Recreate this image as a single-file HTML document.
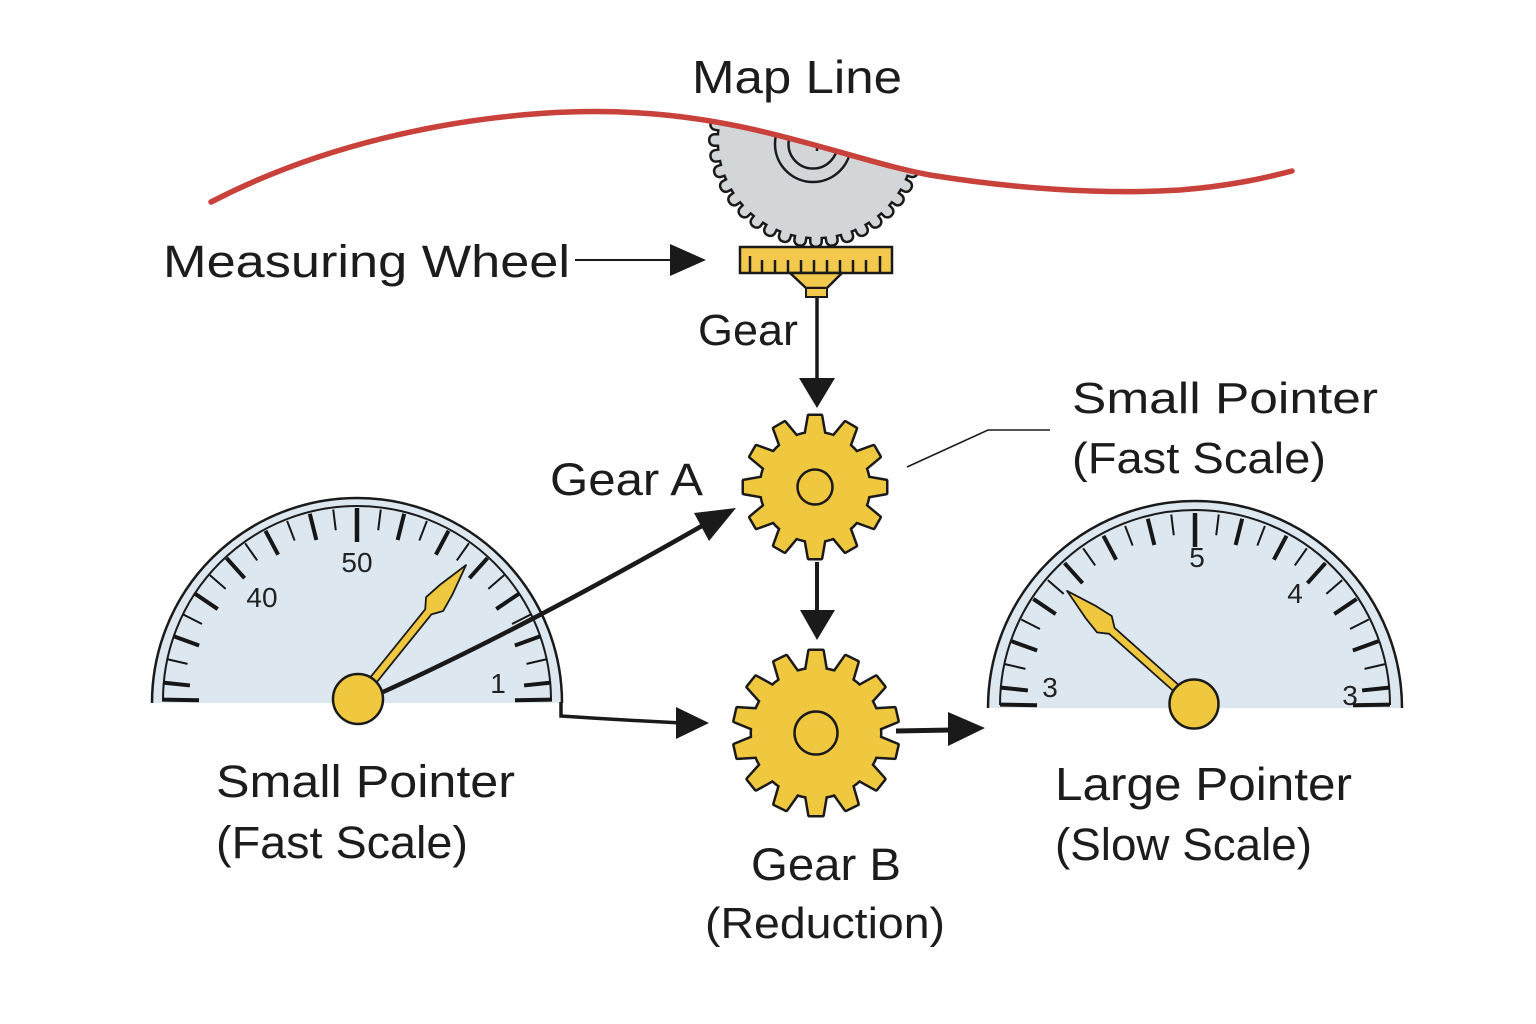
<!DOCTYPE html>
<html>
<head>
<meta charset="utf-8">
<style>
html,body{margin:0;padding:0;background:#fff;}
svg{display:block;}
.lbl{font-family:"Liberation Sans",sans-serif;fill:#1c1c1c;}
.num{font-family:"Liberation Sans",sans-serif;fill:#222;font-size:28px;}
</style>
</head>
<body>
<svg width="1536" height="1024" viewBox="0 0 1536 1024" xmlns="http://www.w3.org/2000/svg" xmlns:xlink="http://www.w3.org/1999/xlink">
<defs>
  <clipPath id="below">
    <path d="M 211 202 C 350 130, 520 105, 640 113 C 760 120, 850 160, 930 175 C 1010 188, 1100 195, 1180 190 C 1230 186, 1265 178, 1292 171 L 1292 1024 L 211 1024 Z"/>
  </clipPath>

  <!-- measuring wheel shape -->
  <g id="wh">
    <circle r="97"/>
    <rect id="wt" x="-4.5" y="-105.5" width="9" height="12" rx="4"/>
    <use href="#wt" transform="rotate(9)"/><use href="#wt" transform="rotate(18)"/><use href="#wt" transform="rotate(27)"/>
    <use href="#wt" transform="rotate(36)"/><use href="#wt" transform="rotate(45)"/><use href="#wt" transform="rotate(54)"/>
    <use href="#wt" transform="rotate(63)"/><use href="#wt" transform="rotate(72)"/><use href="#wt" transform="rotate(81)"/>
    <use href="#wt" transform="rotate(90)"/><use href="#wt" transform="rotate(99)"/><use href="#wt" transform="rotate(108)"/>
    <use href="#wt" transform="rotate(117)"/><use href="#wt" transform="rotate(126)"/><use href="#wt" transform="rotate(135)"/>
    <use href="#wt" transform="rotate(144)"/><use href="#wt" transform="rotate(153)"/><use href="#wt" transform="rotate(162)"/>
    <use href="#wt" transform="rotate(171)"/><use href="#wt" transform="rotate(180)"/><use href="#wt" transform="rotate(189)"/>
    <use href="#wt" transform="rotate(198)"/><use href="#wt" transform="rotate(207)"/><use href="#wt" transform="rotate(216)"/>
    <use href="#wt" transform="rotate(225)"/><use href="#wt" transform="rotate(234)"/><use href="#wt" transform="rotate(243)"/>
    <use href="#wt" transform="rotate(252)"/><use href="#wt" transform="rotate(261)"/><use href="#wt" transform="rotate(270)"/>
    <use href="#wt" transform="rotate(279)"/><use href="#wt" transform="rotate(288)"/><use href="#wt" transform="rotate(297)"/>
    <use href="#wt" transform="rotate(306)"/><use href="#wt" transform="rotate(315)"/><use href="#wt" transform="rotate(324)"/>
    <use href="#wt" transform="rotate(333)"/><use href="#wt" transform="rotate(342)"/><use href="#wt" transform="rotate(351)"/>
  </g>

  <!-- gear A: 12 teeth -->
  <g id="gA">
    <circle r="54"/>
    <path id="tA" d="M -9.5 -51 L -6 -71 L 6 -71 L 9.5 -51 Z"/>
    <use href="#tA" transform="rotate(30)"/><use href="#tA" transform="rotate(60)"/><use href="#tA" transform="rotate(90)"/>
    <use href="#tA" transform="rotate(120)"/><use href="#tA" transform="rotate(150)"/><use href="#tA" transform="rotate(180)"/>
    <use href="#tA" transform="rotate(210)"/><use href="#tA" transform="rotate(240)"/><use href="#tA" transform="rotate(270)"/>
    <use href="#tA" transform="rotate(300)"/><use href="#tA" transform="rotate(330)"/>
  </g>

  <!-- gear B: 14 teeth -->
  <g id="gB">
    <circle r="64"/>
    <path id="tB" d="M -10 -61 L -6.5 -82 L 6.5 -82 L 10 -61 Z"/>
    <use href="#tB" transform="rotate(25.714)"/><use href="#tB" transform="rotate(51.429)"/><use href="#tB" transform="rotate(77.143)"/>
    <use href="#tB" transform="rotate(102.857)"/><use href="#tB" transform="rotate(128.571)"/><use href="#tB" transform="rotate(154.286)"/>
    <use href="#tB" transform="rotate(180)"/><use href="#tB" transform="rotate(205.714)"/><use href="#tB" transform="rotate(231.429)"/>
    <use href="#tB" transform="rotate(257.143)"/><use href="#tB" transform="rotate(282.857)"/><use href="#tB" transform="rotate(308.571)"/>
    <use href="#tB" transform="rotate(334.286)"/>
  </g>

  <!-- dial ticks -->
  <g id="ticks" stroke="#161616" stroke-linecap="butt">
    <line x1="0" y1="-195" x2="0" y2="-161" stroke-width="4.5"/>
    <g stroke-width="4">
      <line x1="0" y1="-195" x2="0" y2="-168" transform="rotate(14)"/>
      <line x1="0" y1="-195" x2="0" y2="-168" transform="rotate(28)"/>
      <line x1="0" y1="-195" x2="0" y2="-168" transform="rotate(42)"/>
      <line x1="0" y1="-195" x2="0" y2="-168" transform="rotate(56)"/>
      <line x1="0" y1="-195" x2="0" y2="-168" transform="rotate(70)"/>
      <line x1="0" y1="-195" x2="0" y2="-168" transform="rotate(84)"/>
      <line x1="0" y1="-195" x2="0" y2="-168" transform="rotate(-14)"/>
      <line x1="0" y1="-195" x2="0" y2="-168" transform="rotate(-28)"/>
      <line x1="0" y1="-195" x2="0" y2="-168" transform="rotate(-42)"/>
      <line x1="0" y1="-195" x2="0" y2="-168" transform="rotate(-56)"/>
      <line x1="0" y1="-195" x2="0" y2="-168" transform="rotate(-70)"/>
      <line x1="0" y1="-195" x2="0" y2="-168" transform="rotate(-84)"/>
      <line x1="0" y1="-195" x2="0" y2="-158" transform="rotate(89)"/>
      <line x1="0" y1="-195" x2="0" y2="-158" transform="rotate(-89)"/>
    </g>
    <g stroke-width="2">
      <line x1="0" y1="-195" x2="0" y2="-174" transform="rotate(7)"/>
      <line x1="0" y1="-195" x2="0" y2="-174" transform="rotate(21)"/>
      <line x1="0" y1="-195" x2="0" y2="-174" transform="rotate(35)"/>
      <line x1="0" y1="-195" x2="0" y2="-174" transform="rotate(49)"/>
      <line x1="0" y1="-195" x2="0" y2="-174" transform="rotate(63)"/>
      <line x1="0" y1="-195" x2="0" y2="-174" transform="rotate(77)"/>
      <line x1="0" y1="-195" x2="0" y2="-174" transform="rotate(-7)"/>
      <line x1="0" y1="-195" x2="0" y2="-174" transform="rotate(-21)"/>
      <line x1="0" y1="-195" x2="0" y2="-174" transform="rotate(-35)"/>
      <line x1="0" y1="-195" x2="0" y2="-174" transform="rotate(-49)"/>
      <line x1="0" y1="-195" x2="0" y2="-174" transform="rotate(-63)"/>
      <line x1="0" y1="-195" x2="0" y2="-174" transform="rotate(-77)"/>
    </g>
  </g>
</defs>

<rect width="1536" height="1024" fill="#fff"/>

<!-- Measuring wheel (clipped below the map line) -->
<g clip-path="url(#below)">
  <g transform="translate(816,140)">
    <use href="#wh" fill="#1a1a1a" stroke="#1a1a1a" stroke-width="5" stroke-linejoin="round"/>
    <use href="#wh" fill="#d3d6d9"/>
  </g>
  <circle cx="813" cy="144" r="38" fill="none" stroke="#1a1a1a" stroke-width="2.5"/>
  <circle cx="813" cy="144" r="24.5" fill="none" stroke="#1a1a1a" stroke-width="2.5"/>
  <line x1="817" y1="143" x2="817" y2="151" stroke="#1a1a1a" stroke-width="2.5"/>
</g>

<!-- Map line -->
<path d="M 211 202 C 350 130, 520 105, 640 113 C 760 120, 850 160, 930 175 C 1010 188, 1100 195, 1180 190 C 1230 186, 1265 178, 1292 171" fill="none" stroke="#c8413a" stroke-width="5.5" stroke-linecap="round"/>

<!-- Ruler / gear rack -->
<rect x="740" y="247" width="152" height="26" fill="#f2c94c" stroke="#1a1a1a" stroke-width="2.5"/>
<g stroke="#1a1a1a" stroke-width="2.5">
  <line x1="750" y1="256" x2="750" y2="273"/>
  <line x1="762" y1="260" x2="762" y2="273"/>
  <line x1="775" y1="260" x2="775" y2="273"/>
  <line x1="788" y1="260" x2="788" y2="273"/>
  <line x1="801" y1="260" x2="801" y2="273"/>
  <line x1="814" y1="260" x2="814" y2="273"/>
  <line x1="827" y1="260" x2="827" y2="273"/>
  <line x1="840" y1="260" x2="840" y2="273"/>
  <line x1="853" y1="260" x2="853" y2="273"/>
  <line x1="866" y1="260" x2="866" y2="273"/>
  <line x1="880" y1="256" x2="880" y2="273"/>
</g>
<polygon points="790,273 842,273 827,288 806,288" fill="#f2c94c" stroke="#1a1a1a" stroke-width="2.5" stroke-linejoin="round"/>
<rect x="806" y="288" width="21" height="9" fill="#f2c94c" stroke="#1a1a1a" stroke-width="2"/>

<!-- Arrow: Measuring wheel label -> ruler -->
<line x1="575" y1="260" x2="674" y2="260" stroke="#1a1a1a" stroke-width="2"/>
<polygon points="670,244 706,260 670,276" fill="#1a1a1a"/>

<!-- Arrow: gear down to Gear A -->
<line x1="817" y1="297" x2="817" y2="382" stroke="#1a1a1a" stroke-width="3.5"/>
<polygon points="799,378 835,378 817,408" fill="#1a1a1a"/>

<!-- Gear A -->
<g transform="translate(815,487)">
  <use href="#gA" fill="#1a1a1a" stroke="#1a1a1a" stroke-width="5" stroke-linejoin="round"/>
  <use href="#gA" fill="#efc840"/>
  <circle r="17.5" fill="none" stroke="#1a1a1a" stroke-width="2.5"/>
</g>

<!-- Arrow A -> B -->
<line x1="817" y1="562" x2="817" y2="615" stroke="#1a1a1a" stroke-width="4"/>
<polygon points="800,610 835,610 817,640" fill="#1a1a1a"/>

<!-- Gear B -->
<g transform="translate(816,733)">
  <use href="#gB" fill="#1a1a1a" stroke="#1a1a1a" stroke-width="5" stroke-linejoin="round"/>
  <use href="#gB" fill="#efc840"/>
  <circle r="21.5" fill="none" stroke="#1a1a1a" stroke-width="2.5"/>
</g>

<!-- Arrow B -> right dial -->
<line x1="896" y1="731" x2="952" y2="730" stroke="#1a1a1a" stroke-width="5"/>
<polygon points="948,712 985,728 948,746" fill="#1a1a1a"/>

<!-- Left dial -->
<path d="M 152 703 A 205 205 0 0 1 562 703 Z" fill="#dde7ef"/>
<path d="M 152 703 A 205 205 0 0 1 562 703" fill="none" stroke="#1a1a1a" stroke-width="2.5"/>
<path d="M 163 700 A 194 194 0 0 1 551 700" fill="none" stroke="#1a1a1a" stroke-width="2"/>
<use href="#ticks" transform="translate(357,703)"/>
<text class="num" x="357" y="572" text-anchor="middle">50</text>
<text class="num" x="262" y="607" text-anchor="middle">40</text>
<text class="num" x="498" y="693" text-anchor="middle">1</text>

<!-- Right dial -->
<path d="M 988 708 A 207 207 0 0 1 1402 708 Z" fill="#dde7ef"/>
<path d="M 988 708 A 207 207 0 0 1 1402 708" fill="none" stroke="#1a1a1a" stroke-width="2.5"/>
<path d="M 1000 705 A 195 195 0 0 1 1390 705" fill="none" stroke="#1a1a1a" stroke-width="2"/>
<use href="#ticks" transform="translate(1195,708)"/>
<text class="num" x="1197" y="567" text-anchor="middle">5</text>
<text class="num" x="1295" y="603" text-anchor="middle">4</text>
<text class="num" x="1050" y="697" text-anchor="middle">3</text>
<text class="num" x="1350" y="705" text-anchor="middle">3</text>

<!-- Lower arrow left dial -> Gear B -->
<path d="M 561 702 L 561 716 Q 620 720 682 723" fill="none" stroke="#1a1a1a" stroke-width="3.5"/>
<polygon points="676,707 709,723 676,739" fill="#1a1a1a"/>

<!-- Left needle -->
<g transform="translate(358,699) rotate(38.9)">
  <path d="M -4 0 L -4 -112 L -11 -122 L -8 -140 L 0 -172 L 8 -140 L 11 -122 L 4 -112 L 4 0 Z" fill="#efc840" stroke="#1a1a1a" stroke-width="1.8" stroke-linejoin="round"/>
</g>

<!-- Arrow hub -> Gear A -->
<path d="M 383 692 Q 520 630 707 523" fill="none" stroke="#1a1a1a" stroke-width="4.5"/>
<polygon points="736,508 709,541 694,513" fill="#1a1a1a"/>

<circle cx="358" cy="699" r="25" fill="#efc840" stroke="#1a1a1a" stroke-width="2.5"/>

<!-- Right needle -->
<g transform="translate(1194,704) rotate(-48.3)">
  <path d="M -4 0 L -4 -110 L -11 -120 L -8 -138 L 0 -170 L 8 -138 L 11 -120 L 4 -110 L 4 0 Z" fill="#efc840" stroke="#1a1a1a" stroke-width="1.8" stroke-linejoin="round"/>
</g>
<circle cx="1194" cy="704" r="24.5" fill="#efc840" stroke="#1a1a1a" stroke-width="2.5"/>

<!-- Leader line -->
<polyline points="907,467 988,430 1050,430" fill="none" stroke="#1a1a1a" stroke-width="1.6"/>

<!-- Labels -->
<text class="lbl" x="692" y="93" font-size="46" textLength="210" lengthAdjust="spacingAndGlyphs">Map Line</text>
<text class="lbl" x="163" y="277" font-size="45" textLength="407" lengthAdjust="spacingAndGlyphs">Measuring Wheel</text>
<text class="lbl" x="698" y="345" font-size="44" textLength="100" lengthAdjust="spacingAndGlyphs">Gear</text>
<text class="lbl" x="550" y="495" font-size="45" textLength="153" lengthAdjust="spacingAndGlyphs">Gear A</text>
<text class="lbl" x="1072" y="413" font-size="44" textLength="306" lengthAdjust="spacingAndGlyphs">Small Pointer</text>
<text class="lbl" x="1072" y="473" font-size="44" textLength="254" lengthAdjust="spacingAndGlyphs">(Fast Scale)</text>
<text class="lbl" x="216" y="797" font-size="45" textLength="299" lengthAdjust="spacingAndGlyphs">Small Pointer</text>
<text class="lbl" x="216" y="858" font-size="45" textLength="252" lengthAdjust="spacingAndGlyphs">(Fast Scale)</text>
<text class="lbl" x="751" y="880" font-size="45" textLength="150" lengthAdjust="spacingAndGlyphs">Gear B</text>
<text class="lbl" x="705" y="938" font-size="44" textLength="240" lengthAdjust="spacingAndGlyphs">(Reduction)</text>
<text class="lbl" x="1055" y="800" font-size="46" textLength="297" lengthAdjust="spacingAndGlyphs">Large Pointer</text>
<text class="lbl" x="1055" y="860" font-size="45" textLength="257" lengthAdjust="spacingAndGlyphs">(Slow Scale)</text>
</svg>
</body>
</html>
